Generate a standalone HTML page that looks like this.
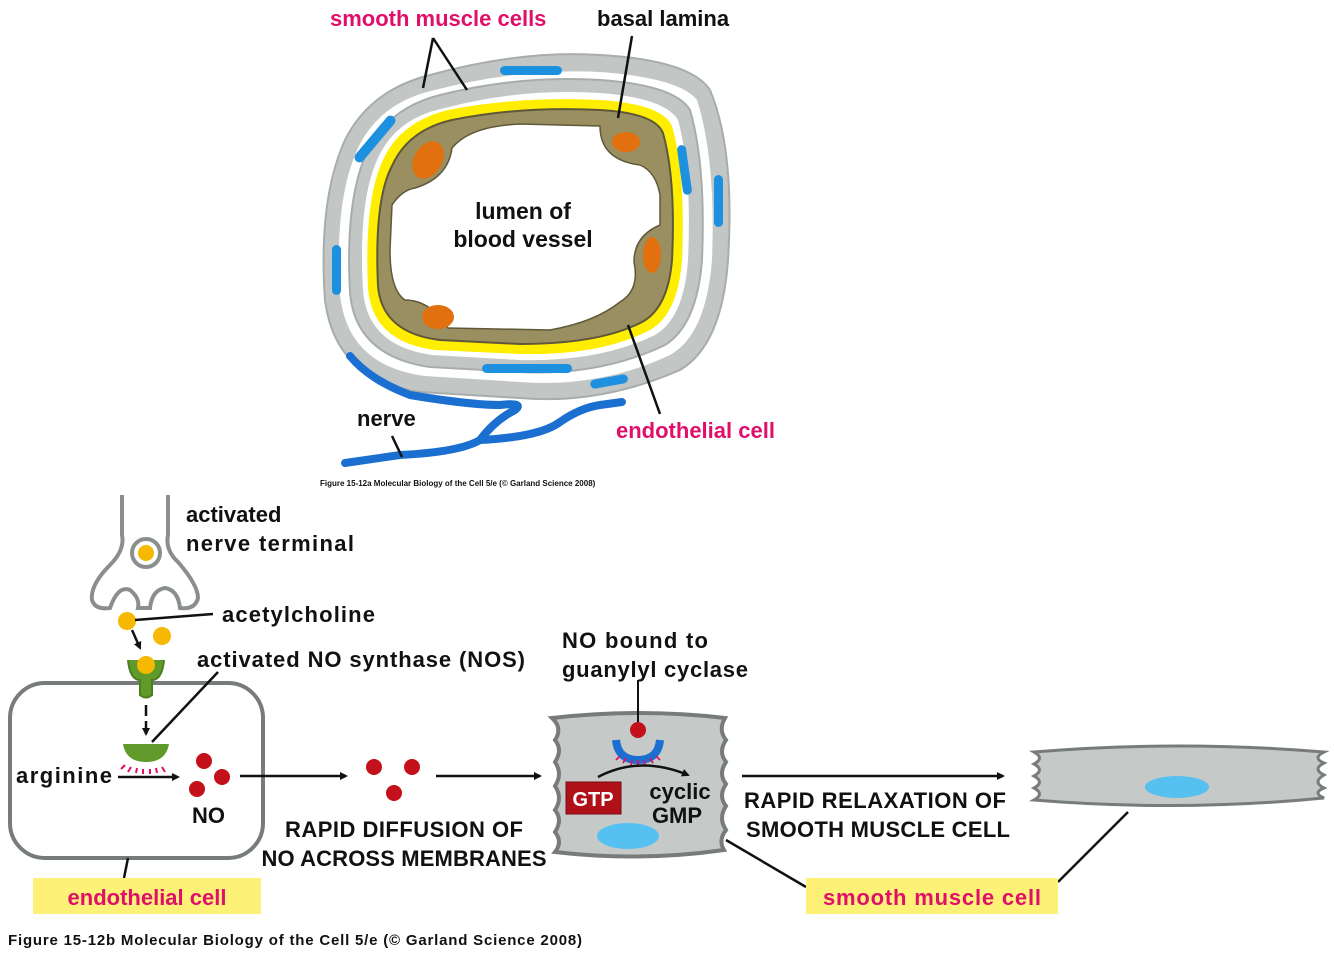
<!DOCTYPE html>
<html><head><meta charset="utf-8"><style>
body{margin:0;background:#fff;}
svg{display:block;font-family:"Liberation Sans",sans-serif;font-weight:bold;}
</style></head><body>
<svg width="1334" height="954" viewBox="0 0 1334 954" xmlns="http://www.w3.org/2000/svg">
<defs>
<marker id="ah" markerWidth="8" markerHeight="8" refX="6" refY="4" orient="auto" markerUnits="userSpaceOnUse"><path d="M0,0 L8,4 L0,8z" fill="#111"/></marker>
</defs>
<!-- vessel outer layer -->
<path d="M430,75 Q520,50 600,55 Q690,60 710,90 Q735,150 728,260 Q722,345 680,370 Q600,405 520,398 L420,392 Q335,380 325,300 Q318,200 345,140 Q370,90 430,75Z" fill="#c2c7c6" stroke="#a8adac" stroke-width="2"/>
<path d="M435,90 Q520,68 600,72 Q680,78 697,100 Q716,160 712,260 Q706,335 670,355 Q600,388 520,382 L425,376 Q348,366 340,295 Q334,200 358,148 Q380,102 435,90Z" fill="#fff"/>
<path d="M440,95 Q520,75 600,80 Q675,85 690,110 Q706,165 702,260 Q697,325 665,345 Q600,376 520,372 L430,367 Q355,356 350,292 Q345,200 367,152 Q388,108 440,95Z" fill="#c2c7c6" stroke="#a8adac" stroke-width="2"/>
<path d="M445,108 Q520,88 600,93 Q665,98 678,120 Q692,170 688,260 Q684,318 655,335 Q600,362 520,360 L432,355 Q367,346 363,290 Q358,200 378,158 Q396,118 445,108Z" fill="#fff"/>
<path d="M448,110 Q520,96 600,100 Q662,104 672,126 Q686,175 682,260 Q678,314 650,330 Q600,356 520,354 L435,350 Q372,342 368,288 Q364,200 383,160 Q400,122 448,110Z" fill="#ffee00"/>
<path d="M452,120 Q520,106 600,110 Q655,113 663,133 Q676,180 672,260 Q668,308 642,322 Q600,344 520,344 L440,340 Q382,333 378,286 Q374,200 392,166 Q408,130 452,120Z" fill="#9a8f61" stroke="#5f5838" stroke-width="2"/>
<path d="M520,124 L600,126 Q600,160 640,165 Q656,172 660,195 L660,225 Q634,236 634,262 Q640,290 620,302 Q595,322 550,330 L448,328 Q430,300 405,300 Q390,290 390,250 L392,205 Q402,190 415,188 Q448,178 452,148 Q470,126 520,124Z" fill="#fff" stroke="#5f5838" stroke-width="1.5"/>
<ellipse cx="428" cy="160" rx="14" ry="20" fill="#e2700f" transform="rotate(30 428 160)"/>
<ellipse cx="626" cy="142" rx="14" ry="10" fill="#e2700f"/>
<ellipse cx="652" cy="255" rx="9" ry="18" fill="#e2700f"/>
<ellipse cx="438" cy="317" rx="16" ry="12" fill="#e2700f"/>
<g fill="#1e90e0">
<rect x="500" y="66" width="62" height="9" rx="4.5"/>
<rect x="370" y="110" width="10" height="58" rx="5" transform="rotate(40 375 139)"/>
<rect x="332" y="245" width="9" height="50" rx="4.5"/>
<rect x="680" y="145" width="9" height="50" rx="4.5" transform="rotate(-8 684 170)"/>
<rect x="714" y="175" width="9" height="52" rx="4.5"/>
<rect x="482" y="364" width="90" height="9" rx="4.5"/>
<rect x="590" y="377" width="38" height="9" rx="4.5" transform="rotate(-10 609 381)"/>
</g>
<path d="M350,356 Q370,380 410,395 Q470,405 500,405 Q525,402 515,410 Q495,420 480,440 Q460,452 400,455 L345,463 M480,440 Q540,437 560,422 Q580,408 600,405 L622,402" fill="none" stroke="#1a6fd0" stroke-width="8" stroke-linecap="round"/>
<text x="330" y="26" font-size="22" fill="#e0106a">smooth muscle cells</text>
<text x="597" y="26" font-size="22" fill="#111">basal lamina</text>
<path d="M433,38 L423,88 M433,38 L467,90 M632,36 L618,118 M628,325 L660,414 M392,436 L402,457" stroke="#111" stroke-width="2.5" fill="none"/>
<text x="523" y="219" font-size="23" fill="#111" text-anchor="middle">lumen of</text>
<text x="523" y="247" font-size="23" fill="#111" text-anchor="middle">blood vessel</text>
<text x="357" y="426" font-size="22" fill="#111">nerve</text>
<text x="616" y="438" font-size="22" fill="#e0106a">endothelial cell</text>
<text x="320" y="486" font-size="8" fill="#111">Figure 15-12a  Molecular Biology of the Cell 5/e (© Garland Science 2008)</text>

<path d="M122,495 L122,535 Q125,550 110,565 Q90,585 92,600 Q95,610 110,608 Q118,585 130,590 Q140,598 138,608 L150,608 Q152,590 165,588 Q178,590 180,608 Q195,610 198,598 Q198,585 178,562 Q165,550 168,535 L168,495" fill="none" stroke="#8a8f8e" stroke-width="4"/>
<circle cx="146" cy="553" r="14" fill="none" stroke="#8a8f8e" stroke-width="4"/>
<circle cx="146" cy="553" r="8" fill="#f6b800"/>
<circle cx="127" cy="621" r="9" fill="#f6b800"/>
<circle cx="162" cy="636" r="9" fill="#f6b800"/>
<path d="M132,630 L140,648" stroke="#111" stroke-width="2.5" marker-end="url(#ah)"/>
<path d="M135,620 L213,614" stroke="#111" stroke-width="2.5"/>
<text x="222" y="622" font-size="22" fill="#111" textLength="153">acetylcholine</text>
<text x="186" y="522" font-size="22" fill="#111">activated</text>
<text x="186" y="551" font-size="22" fill="#111" textLength="168">nerve terminal</text>
<rect x="10" y="683" width="253" height="175" rx="35" fill="#fff" stroke="#777c7b" stroke-width="4"/>
<path d="M128,660 Q130,680 140,680 L140,695 Q146,700 152,695 L152,680 Q162,680 164,660" fill="#5f9a2a" stroke="#4a7e1e" stroke-width="2"/>
<circle cx="146" cy="665" r="9" fill="#f6b800"/>
<path d="M146,705 L146,716 M146,721 L146,734" stroke="#111" stroke-width="2.5" marker-end="url(#ah)"/>
<path d="M123,744 L169,744 Q166,762 146,762 Q126,762 123,744Z" fill="#5f9a2a"/>
<g stroke="#e0106a" stroke-width="2"><path d="M125,765 L121,769 M131,767 L128,772 M137,768 L136,773 M143,769 L143,774 M150,769 L150,774 M156,768 L157,773 M162,767 L165,772"/></g>
<path d="M152,742 L218,672" stroke="#111" stroke-width="2.5"/>
<text x="197" y="667" font-size="22" fill="#111" textLength="328">activated NO synthase (NOS)</text>
<text x="16" y="783" font-size="22" fill="#111" textLength="96">arginine</text>
<path d="M118,777 L178,777" stroke="#111" stroke-width="2.5" marker-end="url(#ah)"/>
<g fill="#c4101a"><circle cx="204" cy="761" r="8"/><circle cx="222" cy="777" r="8"/><circle cx="197" cy="789" r="8"/>
<circle cx="374" cy="767" r="8"/><circle cx="412" cy="767" r="8"/><circle cx="394" cy="793" r="8"/></g>
<text x="192" y="823" font-size="22" fill="#111">NO</text>
<path d="M240,776 L346,776" stroke="#111" stroke-width="2.5" marker-end="url(#ah)"/>
<path d="M436,776 L540,776" stroke="#111" stroke-width="2.5" marker-end="url(#ah)"/>
<text x="404" y="837" font-size="22" fill="#111" text-anchor="middle" textLength="238">RAPID DIFFUSION OF</text>
<text x="404" y="866" font-size="22" fill="#111" text-anchor="middle" textLength="285">NO ACROSS MEMBRANES</text>
<path d="M128,858 L124,878" stroke="#111" stroke-width="2.5"/>
<rect x="33" y="878" width="228" height="36" fill="#fdf277"/>
<text x="147" y="905" font-size="22" fill="#e0106a" text-anchor="middle">endothelial cell</text>
<path d="M552,718 Q640,708 725,718 Q718,730 726,740 Q718,752 726,762 Q718,774 726,784 Q718,796 726,806 Q718,818 726,830 Q718,840 724,850 Q640,862 555,852 Q563,842 555,832 Q563,820 555,810 Q563,798 555,786 Q563,774 555,762 Q563,750 555,740 Q563,728 552,718Z" fill="#c5cac9" stroke="#777c7b" stroke-width="4"/>
<ellipse cx="628" cy="836" rx="31" ry="13" fill="#56c0f0"/>
<path d="M616,740 Q618,760 638,760 Q658,760 660,740" fill="none" stroke="#1a6fd0" stroke-width="8"/>
<circle cx="638" cy="730" r="8" fill="#c4101a"/>
<path d="M638,680 L638,722" stroke="#111" stroke-width="2"/>
<g stroke="#e0106a" stroke-width="1.8"><path d="M620,756 L616,760 M626,758 L623,763 M632,760 L631,765 M638,760 L638,765 M644,760 L645,765 M650,758 L653,763 M656,756 L660,760"/></g>
<path d="M598,777 Q640,755 688,775" fill="none" stroke="#111" stroke-width="2.5" marker-end="url(#ah)"/>
<rect x="566" y="782" width="55" height="32" fill="#b01018" stroke="#7a0a10" stroke-width="1"/>
<text x="593" y="806" font-size="20" fill="#fff" text-anchor="middle">GTP</text>
<text x="680" y="799" font-size="22" fill="#111" text-anchor="middle">cyclic</text>
<text x="677" y="823" font-size="22" fill="#111" text-anchor="middle">GMP</text>
<text x="562" y="648" font-size="22" fill="#111" textLength="146">NO bound to</text>
<text x="562" y="677" font-size="22" fill="#111" textLength="186">guanylyl cyclase</text>
<path d="M742,776 L1003,776" stroke="#111" stroke-width="2.5" marker-end="url(#ah)"/>
<text x="875" y="808" font-size="22" fill="#111" text-anchor="middle" textLength="262">RAPID RELAXATION OF</text>
<text x="878" y="837" font-size="22" fill="#111" text-anchor="middle" textLength="264">SMOOTH MUSCLE CELL</text>
<path d="M1034,752 Q1180,740 1324,752 Q1312,758 1324,763 Q1312,769 1324,775 Q1312,782 1324,788 Q1312,793 1324,798 Q1180,812 1034,800 Q1045,794 1034,788 Q1045,782 1034,776 Q1045,770 1034,764 Q1045,758 1034,752Z" fill="#c5cac9" stroke="#777c7b" stroke-width="3"/>
<ellipse cx="1177" cy="787" rx="32" ry="11" fill="#56c0f0"/>
<path d="M726,840 L806,887 M1128,812 L1058,882" stroke="#111" stroke-width="2.5"/>
<rect x="806" y="878" width="252" height="36" fill="#fdf277"/>
<text x="932" y="905" font-size="22" fill="#e0106a" text-anchor="middle" textLength="218">smooth muscle cell</text>
<text x="8" y="945" font-size="15" fill="#111" textLength="574">Figure 15-12b  Molecular Biology of the Cell 5/e (© Garland Science 2008)</text>
</svg>
</body></html>
